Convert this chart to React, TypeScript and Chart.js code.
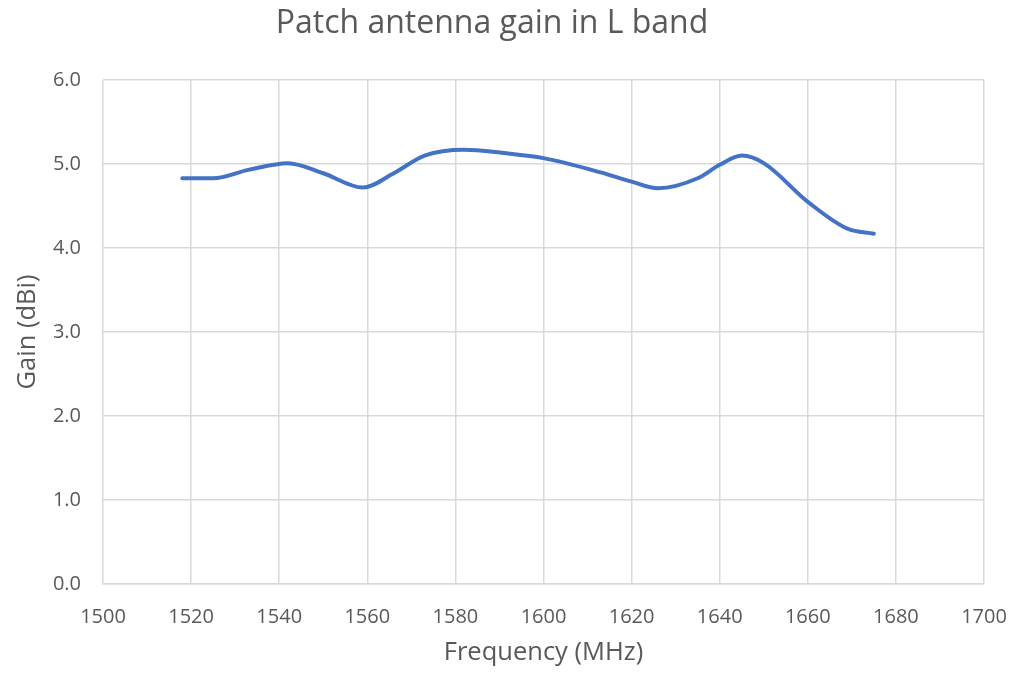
import React, { useEffect, useRef } from "react";
import { Chart, registerables } from "chart.js";

Chart.register(...registerables);

const chartTitle = "Patch antenna gain in L band";
const xAxisTitle = "Frequency (MHz)";
const yAxisTitle = "Gain (dBi)";

const frequencies = [1518, 1525, 1533, 1542, 1550, 1559, 1566, 1573, 1582, 1591, 1600, 1613, 1620, 1626, 1635, 1640, 1645, 1650, 1660, 1669, 1675];
const gains = [4.83, 4.83, 4.93, 5.01, 4.89, 4.72, 4.89, 5.1, 5.17, 5.13, 5.07, 4.9, 4.79, 4.71, 4.83, 4.99, 5.1, 5.01, 4.55, 4.23, 4.17];

const xMin = 1500;
const xMax = 1700;
const xStep = 20;
const yMin = 0;
const yMax = 6;
const yStep = 1;

const FONT = "'Open Sans', 'DejaVu Sans', sans-serif";
const TEXT = "#595959";
const GRID = "#d9d9d9";

export default function App() {
  const canvasRef = useRef<HTMLCanvasElement | null>(null);

  useEffect(() => {
    const canvas = canvasRef.current;
    if (!canvas) return;
    const chart = new Chart(canvas, {
      type: "line",
      data: {
        datasets: [
          {
            label: "Gain",
            data: frequencies.map((f, i) => ({ x: f, y: gains[i] })),
            borderColor: "#4472C4",
            backgroundColor: "#4472C4",
            borderWidth: 4,
            pointRadius: 0,
            cubicInterpolationMode: "monotone",
            fill: false,
            borderCapStyle: "round",
            borderJoinStyle: "round",
          },
        ],
      },
      options: {
        animation: false,
        responsive: false,
        maintainAspectRatio: false,
        layout: { padding: { left: 0, right: 31, top: 0, bottom: 0 } },
        plugins: {
          legend: { display: false },
          tooltip: { enabled: false },
          title: {
            display: true,
            text: chartTitle,
            color: TEXT,
            font: { family: FONT, size: 32, weight: "normal" },
            padding: { top: 5, bottom: 36.6 },
          },
        },
        scales: {
          x: {
            type: "linear",
            min: xMin,
            max: xMax,
            grid: { color: GRID, lineWidth: 1.5, drawTicks: false },
            border: { color: GRID, width: 1.5 },
            ticks: {
              stepSize: xStep,
              color: TEXT,
              font: { family: FONT, size: 20 },
              padding: 21,
              maxRotation: 0,
              callback: (v: any) => String(v),
            },
            title: {
              display: true,
              text: xAxisTitle,
              color: TEXT,
              font: { family: FONT, size: 25.5 },
              padding: { top: 0, bottom: 5.5 },
            },
            afterFit: (s: any) => {
              s.height = 90;
              s.paddingLeft = 0;
              s.paddingRight = 0;
            },
          },
          y: {
            type: "linear",
            min: yMin,
            max: yMax,
            grid: { color: GRID, lineWidth: 1.5, drawTicks: false },
            border: { display: false },
            ticks: {
              stepSize: yStep,
              color: TEXT,
              font: { family: FONT, size: 20 },
              padding: 22,
              callback: (v: any) => Number(v).toFixed(1),
            },
            title: {
              display: true,
              text: yAxisTitle,
              color: TEXT,
              font: { family: FONT, size: 25.5 },
              padding: { top: 12, bottom: 0 },
            },
            afterFit: (s: any) => {
              s.width = 103;
              s.paddingTop = 0;
              s.paddingBottom = 0;
            },
          },
        },
      },
    });
    return () => chart.destroy();
  }, []);

  return (
    <div style={{ position: "fixed", left: 0, top: 0, width: 1015, height: 674, background: "#ffffff" }}>
      <canvas ref={canvasRef} width={1015} height={674} style={{ width: 1015, height: 674 }} />
    </div>
  );
}
